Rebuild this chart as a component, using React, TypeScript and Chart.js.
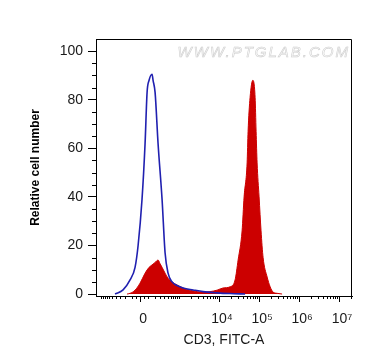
import React, { useEffect, useRef } from "react";
import { Chart, registerables } from "chart.js";

Chart.register(...registerables);

// ---- data (FITC-A intensity on x, relative cell number on y) ----
const X_RANGE = [-1330, 21000000];
const Y_RANGE = [-0.8, 105];

const X_MAJOR = [0, 1e4, 1e5, 1e6, 1e7];
const X_MAJOR_LABELS = ["0", "10\u2074", "10\u2075", "10\u2076", "10\u2077"];
const Y_MAJOR = [0, 20, 40, 60, 80, 100];
const Y_MINOR = [5, 10, 15, 25, 30, 35, 45, 50, 55, 65, 70, 75, 85, 90, 95];

const LINEAR_MINOR = [50, 100, 200, 300, 400, 500, 600, 700, 800, 900, 1000];
const DECADE_MULTIPLIERS = [2, 3, 4, 5, 6, 7, 8, 9];
const DECADES = [1e3, 1e4, 1e5, 1e6];

// isotype control (blue line)
const ISO_X = [-422, -242, -129, -62, -24, 24, 62, 88, 115, 158, 174, 207, 261, 346, 422, 510, 652, 879, 1250, 2240, 3980, 8900, 18900, 44700];
const ISO_Y = [0, 1.7, 5.8, 11, 20, 39, 62, 83, 88, 90.5, 88, 83, 62, 39, 17, 8.6, 5, 3.5, 2.5, 1.7, 1, 0.5, 0.2, 0];

// CD3 stained (red filled)
const CD3_X = [-174, -129, -62, 0, 62, 115, 158, 207, 261, 302, 346, 422, 510, 652, 879, 1250, 1880, 2820, 3980, 5960, 8900, 12600, 18900, 25100, 29900, 37600, 42200, 50200, 53100, 59600, 69700, 79500, 84200, 89200, 100000, 112000, 126000, 159000, 189000, 224000, 282000, 376000];
const CD3_Y = [0, 0.3, 1.6, 4.5, 8.6, 11, 12, 13, 14, 12.5, 11, 8.6, 6.5, 5, 3.7, 2.5, 1.6, 1, 0.8, 1, 1.6, 2.5, 3, 5.8, 14, 26, 40, 54, 67, 81, 88, 81, 67, 54, 40, 26, 15, 7, 3, 0.8, 0.3, 0];

// biexponential-like display transform (arcsinh)
const COFACTOR = 212;
const biex = (v: number) => Math.asinh(v / COFACTOR) / Math.LN10;

const X_MINOR: number[] = [
  ...LINEAR_MINOR.map((v) => -v),
  ...LINEAR_MINOR,
  ...DECADES.flatMap((d) => DECADE_MULTIPLIERS.map((m) => m * d)),
  2e7,
];

const FONT = '"Liberation Sans", Arial, Helvetica, sans-serif';

const decor = {
  id: "decor",
  afterDraw(chart: any) {
    const { ctx, chartArea: a, scales } = chart;
    ctx.save();
    ctx.strokeStyle = "#000";
    ctx.lineWidth = 1;
    ctx.beginPath();
    // frame top & right
    ctx.moveTo(a.left, a.top + 0.5);
    ctx.lineTo(a.right - 0.5, a.top + 0.5);
    ctx.lineTo(a.right - 0.5, a.bottom);
    // y minor ticks
    for (const v of Y_MINOR) {
      const y = Math.round(scales.y.getPixelForValue(v)) + 0.5;
      ctx.moveTo(a.left, y);
      ctx.lineTo(a.left - 4, y);
    }
    // x minor ticks
    for (const v of X_MINOR) {
      const p = biex(v);
      if (p < scales.x.min || p > scales.x.max) continue;
      const x = Math.round(scales.x.getPixelForValue(p)) + 0.5;
      ctx.moveTo(x, a.bottom);
      ctx.lineTo(x, a.bottom + 3);
    }
    ctx.stroke();

    // watermark
    ctx.font = `italic 15px ${FONT}`;
    (ctx as any).letterSpacing = "2px";
    ctx.textAlign = "right";
    ctx.textBaseline = "middle";
    ctx.strokeStyle = "#cfcfcf";
    ctx.lineWidth = 0.6;
    ctx.strokeText("WWW.PTGLAB.COM", a.right - 2, 53);
    ctx.restore();
  },
};

export default function App() {
  const ref = useRef<HTMLCanvasElement>(null);

  useEffect(() => {
    const isoData = ISO_X.map((v, i) => ({ x: biex(v), y: ISO_Y[i] }));
    const cd3Data = CD3_X.map((v, i) => ({ x: biex(v), y: CD3_Y[i] }));

    const chart = new Chart(ref.current as HTMLCanvasElement, {
      type: "line",
      data: {
        datasets: [
          {
            label: "Isotype",
            data: isoData,
            borderColor: "#2020b0",
            borderWidth: 1.6,
            pointRadius: 0,
            fill: false,
            cubicInterpolationMode: "monotone",
          },
          {
            label: "CD3",
            data: cd3Data,
            borderColor: "#cc0000",
            backgroundColor: "#cc0000",
            borderWidth: 1,
            pointRadius: 0,
            fill: "origin",
            cubicInterpolationMode: "monotone",
          },
        ],
      },
      options: {
        responsive: false,
        devicePixelRatio: 1,
        animation: false,
        layout: { padding: { left: 0, top: 39, right: 23, bottom: 0 } },
        plugins: { legend: { display: false }, tooltip: { enabled: false } },
        scales: {
          x: {
            type: "linear",
            min: biex(X_RANGE[0]),
            max: biex(X_RANGE[1]),
            afterBuildTicks: (s: any) => {
              s.ticks = X_MAJOR.map((v) => ({ value: biex(v) }));
            },
            afterFit: (s: any) => {
              s.height = 68;
            },
            ticks: {
              callback: (_v: any, i: number) => X_MAJOR_LABELS[i],
              font: { family: FONT, size: 14 },
              color: "#1a1a1a",
              padding: 9,
              maxRotation: 0,
              autoSkip: false,
              labelOffset: 3,
            },
            grid: { drawOnChartArea: false, tickLength: 6, tickColor: "#000", color: "#000" },
            border: { color: "#000", width: 1 },
            title: {
              display: true,
              text: "CD3, FITC-A",
              font: { family: FONT, size: 14 },
              color: "#1a1a1a",
              padding: { top: 0, bottom: 15 },
            },
          },
          y: {
            type: "linear",
            min: Y_RANGE[0],
            max: Y_RANGE[1],
            afterBuildTicks: (s: any) => {
              s.ticks = Y_MAJOR.map((v) => ({ value: v }));
            },
            afterFit: (s: any) => {
              s.width = 96;
            },
            ticks: {
              font: { family: FONT, size: 14 },
              color: "#1a1a1a",
              padding: 5,
            },
            grid: { drawOnChartArea: false, tickLength: 8, tickColor: "#000", color: "#000" },
            border: { color: "#000", width: 1 },
            title: {
              display: true,
              text: "Relative cell number",
              font: { family: FONT, size: 12, weight: "bold" },
              color: "#000",
              padding: { top: 28, bottom: 0 },
            },
          },
        },
      },
      plugins: [decor],
    } as any);

    return () => chart.destroy();
  }, []);

  return (
    <div style={{ position: "fixed", left: 0, top: 0, width: 375, height: 364, background: "#fff" }}>
      <canvas ref={ref} width={375} height={364} style={{ display: "block", width: 375, height: 364 }} />
    </div>
  );
}
